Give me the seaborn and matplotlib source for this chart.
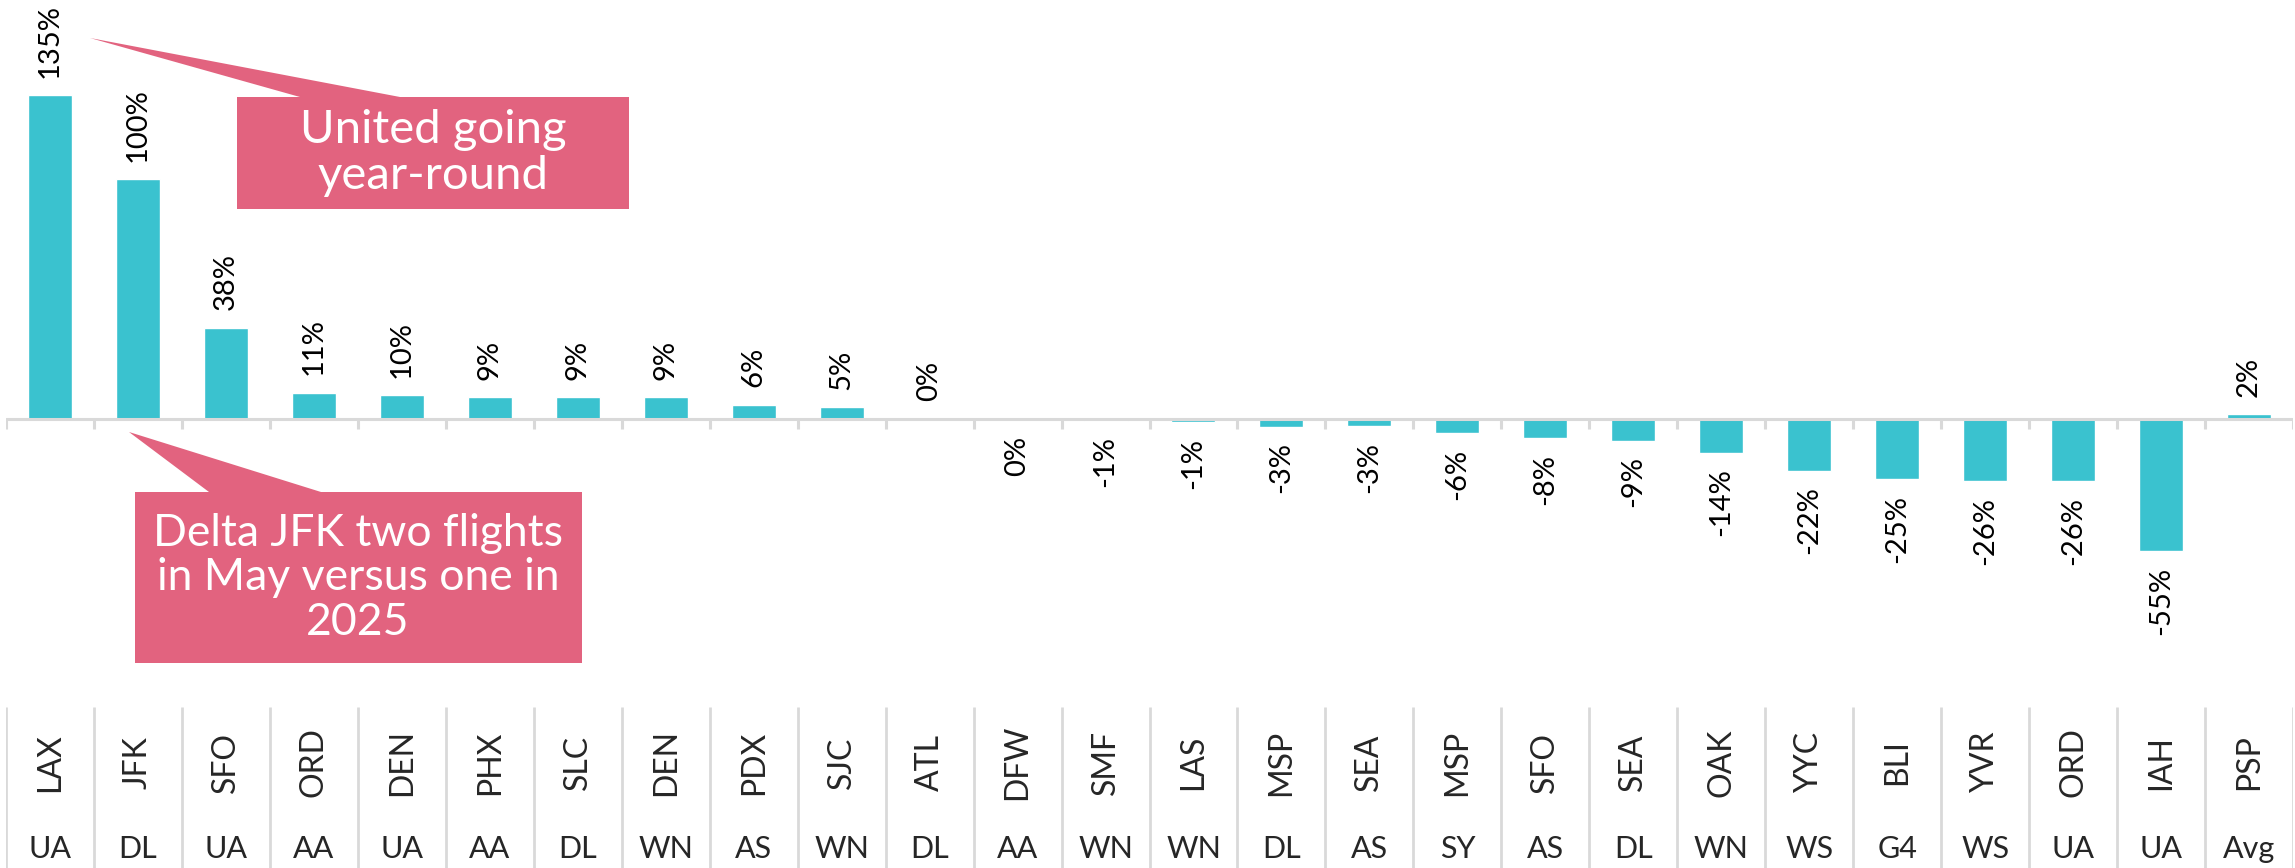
import pandas as pd
import matplotlib.pyplot as plt
from matplotlib.patches import Polygon
import seaborn as sns

# data
airports = ['LAX', 'JFK', 'SFO', 'ORD', 'DEN', 'PHX', 'SLC', 'DEN', 'PDX', 'SJC',
            'ATL', 'DFW', 'SMF', 'LAS', 'MSP', 'SEA', 'MSP', 'SFO', 'SEA', 'OAK',
            'YYC', 'BLI', 'YVR', 'ORD', 'IAH', 'PSP']
carriers = ['UA', 'DL', 'UA', 'AA', 'UA', 'AA', 'DL', 'WN', 'AS', 'WN',
            'DL', 'AA', 'WN', 'WN', 'DL', 'AS', 'SY', 'AS', 'DL', 'WN',
            'WS', 'G4', 'WS', 'UA', 'UA', 'Avg']
change = [135, 100, 38, 11, 10, 9, 9, 9, 6, 5,
          0.2, -0.3, -0.6, -1.2, -3.2, -3.0, -6, -8, -9, -14,
          -21.5, -25, -26, -26, -55, 2]

TEAL = '#3AC2CF'
PINK = '#E2637F'
GREY = '#D9D9D9'

df = pd.DataFrame({'airport': airports, 'carrier': carriers, 'change': change})
df['key'] = df['airport'] + ' ' + df['carrier']

sns.set_style('white')
plt.rcParams['font.family'] = ['Lato', 'DejaVu Sans']

W, H = 2295, 868
fig = plt.figure(figsize=(W / 100, H / 100), dpi=100)

# main bar area (top 703 px of the figure)
x0, x1 = 6 / W, 2293 / W
ax = fig.add_axes([x0, 165 / H, x1 - x0, 703 / H])
sns.barplot(data=df, x='key', y='change', color=TEAL, saturation=1,
            width=0.5, ax=ax)
ax.set_xlim(-0.5, len(df) - 0.5)
ax.set_ylim(-118.3, 174.6)
ax.set_xlabel('')
ax.set_ylabel('')
ax.set_xticks([])
ax.set_yticks([])
sns.despine(ax=ax, left=True, bottom=True)

ax.axhline(0, color=GREY, lw=2.2, zorder=3)
ax.vlines([k - 0.5 for k in range(len(df) + 1)], -4.2, 0, color=GREY, lw=2.2,
          zorder=3)

for i, v in enumerate(df['change']):
    label = '{}%'.format(int(round(v)) if round(v) != 0 else 0)
    if v >= 0:
        ax.text(i, v + 7.3, label, rotation=90, ha='center', va='bottom',
                fontsize=21, color='black')
    else:
        ax.text(i, min(v, 0) - 6.5, label, rotation=90, ha='center', va='top',
                fontsize=21, color='black')

# airport / carrier table underneath
tab = fig.add_axes([x0, 0, x1 - x0, 165 / H], sharex=ax)
tab.set_ylim(0, 1)
tab.axis('off')
tab.vlines([k - 0.5 for k in range(len(df) + 1)], 0, (868 - 707) / 165,
           color=GREY, lw=2)
for i, (a, c) in enumerate(zip(df['airport'], df['carrier'])):
    tab.text(i, 0.64, a, rotation=90, ha='center', va='center', fontsize=23)
    tab.text(i, 0.115, c, ha='center', va='center', fontsize=22)


# callouts (pixel positions, origin top-left)
def callout(pts, center, text, size):
    fpts = [(px / W, 1 - py / H) for px, py in pts]
    fig.patches.append(Polygon(fpts, closed=True, transform=fig.transFigure,
                               facecolor=PINK, edgecolor='none', zorder=5))
    fig.text(center[0] / W, 1 - center[1] / H, text, color='white',
             ha='center', va='center', fontsize=size, linespacing=1.1,
             zorder=6)


callout([(237, 97), (300, 97), (90, 38), (400, 97), (629, 97),
         (629, 209), (237, 209)],
        (433, 153), 'United going\nyear-round', 34)
callout([(135, 492), (209, 492), (129, 432), (321, 492), (582, 492),
         (582, 663), (135, 663)],
        (358, 578), 'Delta JFK two flights\nin May versus one in\n2025', 32)

plt.savefig('out.png', dpi=100)
